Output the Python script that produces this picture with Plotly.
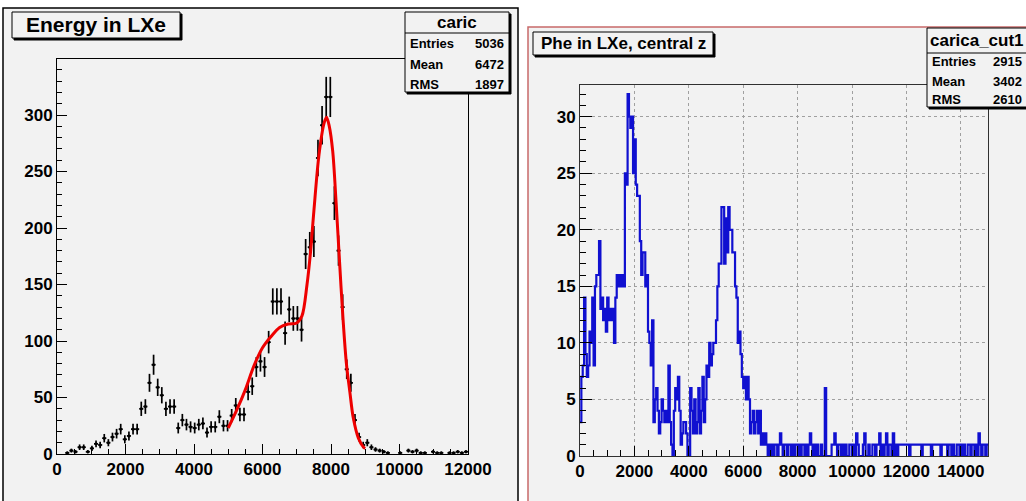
import numpy as np
import plotly.graph_objects as go

W, H = 1026, 501

# ---------------- Left panel: "Energy in LXe" (histogram caric) ----------------
caric_bin_width = 120
caric_counts = [
    0, 0, 1, 3, 2, 6, 6, 2, 5, 9,
    8, 14, 10, 15, 18, 22, 13, 16, 22, 22,
    40, 42, 63, 79, 59, 52, 40, 42, 42, 23,
    30, 26, 24, 23, 26, 27, 19, 24, 24, 33,
    25, 25, 34, 43, 35, 35, 55, 60, 77, 82,
    77, 99, 135, 135, 135, 107, 128, 120, 120, 110,
    177, 183, 188, 262, 291, 316, 316, 222, 180, 130,
    75, 63, 30, 15, 8, 10, 6, 4, 3, 2,
    1, 0, 0, 1, 0, 3, 2, 3, 1, 1,
    0, 2, 1, 1, 0, 1, 1, 2, 1, 2,
]
fit_x = [5000, 5250, 5500, 5750, 6000, 6250, 6500, 6750, 7000, 7150, 7300, 7400,
         7500, 7650, 7800, 7870, 7950, 8050, 8150, 8250, 8350, 8450, 8550, 8650,
         8800, 8950, 9000]
fit_y = [23, 39, 57, 78, 94, 104, 112, 115, 116, 122, 150, 178,
         215, 265, 293, 298, 290, 268, 222, 170, 120, 80, 55, 32,
         14, 6, 5]
left_stats = [("Entries", "5036"), ("Mean", "6472"), ("RMS", "1897")]

# ---------------- Right panel: "Phe in LXe, central z" (carica_cut1) ----------------
phe_bin_width = 50
phe_counts = [
    3, 7, 8, 14, 9, 7, 8, 11, 10, 14,
    8, 15, 16, 16, 19, 13, 14, 12, 13, 11,
    14, 12, 13, 12, 13, 10, 14, 16, 15, 16,
    15, 16, 15, 25, 24, 32, 30, 29, 30, 25,
    28, 24, 23, 23, 19, 16, 18, 18, 15, 16,
    11, 10, 8, 12, 3, 5, 6, 4, 2, 3,
    5, 4, 3, 4, 3, 8, 3, 1, 0, 4,
    6, 5, 7, 4, 1, 2, 3, 3, 2, 0,
    0, 6, 4, 2, 5, 2, 3, 6, 2, 4,
    7, 3, 5, 8, 7, 10, 8, 9, 10, 10,
    12, 15, 17, 17, 22, 22, 17, 21, 18, 22,
    20, 20, 18, 18, 15, 14, 10, 11, 9, 7,
    6, 7, 5, 7, 5, 2, 3, 4, 2, 3,
    4, 2, 4, 1, 2, 1, 2, 1, 0, 1,
    0, 1, 0, 1, 1, 0, 1, 2, 1, 0,
    1, 1, 0, 1, 1, 0, 1, 0, 1, 1,
    0, 1, 0, 1, 1, 0, 1, 0, 1, 2,
    1, 0, 1, 0, 1, 0, 0, 1, 0, 0,
    6, 0, 0, 0, 0, 1, 1, 2, 1, 0,
    1, 1, 0, 1, 0, 1, 0, 0, 1, 1,
    0, 1, 0, 2, 1, 0, 0, 0, 1, 2,
    0, 0, 1, 0, 0, 1, 1, 0, 1, 1,
    2, 0, 1, 0, 1, 2, 0, 1, 1, 0,
    2, 0, 1, 0, 1, 1, 1, 1, 1, 1,
    1, 1, 0, 1, 1, 1, 1, 1, 1, 1,
    1, 0, 1, 1, 1, 1, 1, 1, 0, 1,
    1, 1, 1, 1, 1, 0, 1, 1, 1, 1,
    0, 1, 1, 0, 1, 0, 0, 1, 1, 0,
    1, 0, 1, 0, 0, 1, 1, 0, 1, 1,
    0, 1, 0, 2, 1, 0, 1, 1, 0, 1,
]
right_stats = [("Entries", "2915"), ("Mean", "3402"), ("RMS", "2610")]

# ---------------- helpers ----------------
def fx(px):
    return px / W


def fy(py):
    return 1 - py / H


FONT = "Liberation Sans, Arial, Helvetica, sans-serif"
BG = "#f2f2f2"

fig = go.Figure()

# left histogram points with errors
cc = np.array(caric_counts, dtype=float)
centers = (np.arange(len(cc)) + 0.5) * caric_bin_width
nz = cc > 0
fig.add_trace(go.Scatter(
    x=centers[nz], y=cc[nz], mode="markers",
    marker=dict(size=3, color="black"),
    error_y=dict(type="data", array=np.sqrt(cc[nz]), thickness=1.7, width=0, color="black"),
    error_x=dict(type="constant", value=caric_bin_width / 2, thickness=1.7, width=0, color="black"),
    xaxis="x", yaxis="y", showlegend=False, hoverinfo="skip"))

# fit curve
fig.add_trace(go.Scatter(
    x=fit_x, y=fit_y, mode="lines",
    line=dict(color="#ee0000", width=3, shape="spline", smoothing=0.9),
    xaxis="x", yaxis="y", showlegend=False, hoverinfo="skip"))

# right histogram outline
pc = list(phe_counts)
edges = np.arange(len(pc) + 1) * phe_bin_width
fig.add_trace(go.Scatter(
    x=edges, y=pc + [pc[-1]], mode="lines",
    line=dict(color="#1010d0", width=2.2, shape="hv"),
    xaxis="x2", yaxis="y2", showlegend=False, hoverinfo="skip"))

tickfont = dict(family=FONT, size=17, color="black", weight="bold")


def axis_common(**kw):
    d = dict(showline=True, linecolor="black", linewidth=1, mirror=True,
             ticks="inside", ticklen=10, tickcolor="black", tickwidth=1,
             zeroline=False, tickfont=tickfont, tickangle=0, fixedrange=True,
             automargin=False, tickformat="d")
    d.update(kw)
    return d


L = dict(x0=57, x1=468, y0=59, y1=454)
R = dict(x0=580, x1=988, y0=85, y1=456)

fig.update_layout(
    width=W, height=H, margin=dict(l=0, r=0, t=0, b=0, autoexpand=False),
    paper_bgcolor="white", plot_bgcolor=BG,
    xaxis=axis_common(domain=[fx(L["x0"]), fx(L["x1"])], range=[0, 12000], anchor="y",
                      tick0=0, dtick=2000, showgrid=False,
                      minor=dict(ticks="inside", ticklen=5, dtick=500, tickcolor="black", showgrid=False)),
    yaxis=axis_common(domain=[fy(L["y1"]), fy(L["y0"])], range=[0, 349.6], anchor="x",
                      tick0=0, dtick=50, showgrid=False,
                      minor=dict(ticks="inside", ticklen=5, dtick=10, tickcolor="black", showgrid=False)),
    xaxis2=axis_common(domain=[fx(R["x0"]), fx(R["x1"])], range=[0, 15000], anchor="y2",
                       tick0=0, dtick=2000, showgrid=True, gridcolor="#a0a0a0", griddash="dot",
                       gridwidth=1, linecolor="#303030",
                       minor=dict(ticks="inside", ticklen=6, dtick=500, tickcolor="black", showgrid=False)),
    yaxis2=axis_common(domain=[fy(R["y1"]), fy(R["y0"])], range=[0, 32.8], anchor="x2",
                       tick0=0, dtick=5, showgrid=True, gridcolor="#a0a0a0", griddash="dot",
                       gridwidth=1, linecolor="#303030", ticklen=12,
                       minor=dict(ticks="inside", ticklen=6, dtick=1, tickcolor="black", showgrid=False)),
)

shapes = []


def rect(x0, y0, x1, y1, fill, line, lw=1, layer="above"):
    shapes.append(dict(type="rect", xref="paper", yref="paper",
                       x0=fx(x0), x1=fx(x1), y0=fy(y1), y1=fy(y0),
                       fillcolor=fill, line=dict(color=line, width=lw), layer=layer))


def hline(x0, x1, y, color="black", lw=1):
    shapes.append(dict(type="line", xref="paper", yref="paper",
                       x0=fx(x0), x1=fx(x1), y0=fy(y), y1=fy(y),
                       line=dict(color=color, width=lw), layer="above"))


# panel backgrounds / frames
rect(3, 8, 518, 520, BG, "black", 1.5, layer="below")
rect(528, 27, 1040, 520, BG, "#c86a6a", 1.5, layer="below")

# title boxes with shadow
rect(14, 14, 182, 40, "black", "black", 1)
rect(12, 12, 180, 38, BG, "black", 1)
rect(535, 34, 715, 57, "black", "black", 1)
rect(533, 32, 713, 55, BG, "black", 1)

# stats boxes with shadow
rect(407, 14, 511, 94, "black", "black", 1)
rect(405, 12, 509, 92, BG, "black", 1)
hline(405, 509, 33)
rect(929, 30, 1040, 109, "black", "black", 1)
rect(927, 28, 1040, 107, BG, "black", 1)
hline(927, 1040, 53)

fig.update_layout(shapes=shapes)

ann = []


def text(x, y, s, size, xanchor="center"):
    ann.append(dict(xref="paper", yref="paper", x=fx(x), y=fy(y), text="<b>%s</b>" % s,
                    showarrow=False, xanchor=xanchor, yanchor="middle",
                    font=dict(family=FONT, size=size, color="black")))


text(96, 25, "Energy in LXe", 21)
text(623, 44, "Phe in LXe, central z", 17)

text(457, 23, "caric", 17)
for (lab, val), yy in zip(left_stats, [43, 64, 84]):
    text(408, yy, lab, 13, "left")
    text(506, yy, val, 13, "right")

text(977, 41, "carica_cut1", 17)
for (lab, val), yy in zip(right_stats, [62, 81, 99]):
    text(930, yy, lab, 13, "left")
    text(1024, yy, val, 13, "right")

fig.update_layout(annotations=ann)

fig.write_html("out.html")
